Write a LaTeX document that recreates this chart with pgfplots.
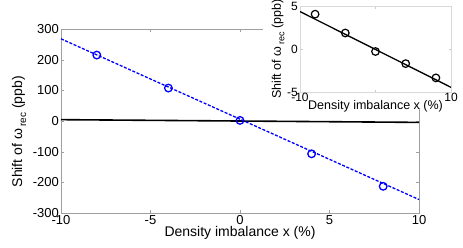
\documentclass[border=0pt]{standalone}
\usepackage{fontspec}
\setmainfont{Liberation Sans}
\usepackage{pgfplots}
\pgfplotsset{compat=1.18}
\definecolor{mblue}{RGB}{0,0,255}
\newcommand{\ylab}[1]{Shift of ω\,\raisebox{-0.55ex}{\fontsize{#1}{#1}\selectfont rec} (ppb)}
\begin{document}
\begin{tikzpicture}
\begin{axis}[name=main, at={(0pt,0pt)}, anchor=south west,
  scale only axis, width=358pt, height=184pt,
  xmin=-10, xmax=10, ymin=-300, ymax=300,
  xtick={-10,-5,0,5,10}, ytick={-300,-200,...,300},
  tick align=inside, major tick length=3pt,
  axis line style={gray!75}, tick style={gray!75},
  tick label style={font=\fontsize{13}{15}\selectfont, /pgf/number format/assume math mode=true},
  xticklabel style={inner sep=1pt, yshift=-1pt},
  yticklabel style={inner sep=2pt},
  xlabel={Density imbalance x (\%)},
  xlabel style={font=\fontsize{14}{16}\selectfont, at={(axis description cs:0.5,-0.109)}, anchor=center},
  ylabel={\ylab{10}},
  ylabel style={font=\fontsize{14}{16}\selectfont, at={(axis description cs:-0.117,0.442)}, anchor=center},
]
\addplot[black, line width=1.6pt] coordinates {(-10,4.4) (10,-4.5)};
\addplot[mblue, line width=1.3pt, dash pattern=on 3pt off 1.6pt] coordinates {(-10,268) (10,-256)};
\addplot[only marks, mark=o, mark size=3.8pt, mblue, mark options={line width=1.3pt}] coordinates {
(-8,215) (-4,107.5) (0,2) (4,-107) (8,-213)};
\end{axis}
\fill[white] (202pt,105pt) rectangle (402pt,213pt);
\begin{axis}[name=inset, at={(239pt,121pt)}, anchor=south west,
  scale only axis, width=151pt, height=86pt,
  xmin=-10, xmax=10, ymin=-5, ymax=5,
  xtick={-10,0,10}, xticklabels={-10,{},10}, ytick={-5,0,5},
  tick align=inside, major tick length=2.5pt,
  axis line style={gray!30}, tick style={gray!40},
  tick label style={font=\fontsize{12}{14}\selectfont, /pgf/number format/assume math mode=true},
  xticklabel style={inner sep=1pt},
  yticklabel style={inner sep=2pt},
  xlabel={Density imbalance x (\%)},
  xlabel style={font=\fontsize{12.5}{14}\selectfont, at={(axis description cs:0.5,-0.163)}, anchor=center},
  ylabel={\ylab{9}},
  ylabel style={font=\fontsize{12.5}{14}\selectfont, at={(axis description cs:-0.145,0.5)}, anchor=center},
]
\addplot[black, line width=1.3pt] coordinates {(-10,4.35) (10,-4.46)};
\addplot[only marks, mark=o, mark size=3.8pt, black, mark options={line width=1.2pt}] coordinates {
(-8,4.05) (-4,1.86) (0,-0.29) (4,-1.7) (8,-3.36)};
\end{axis}
\pgfresetboundingbox
\path (-61pt,-34pt) rectangle (402pt,213pt);
\end{tikzpicture}
\end{document}
